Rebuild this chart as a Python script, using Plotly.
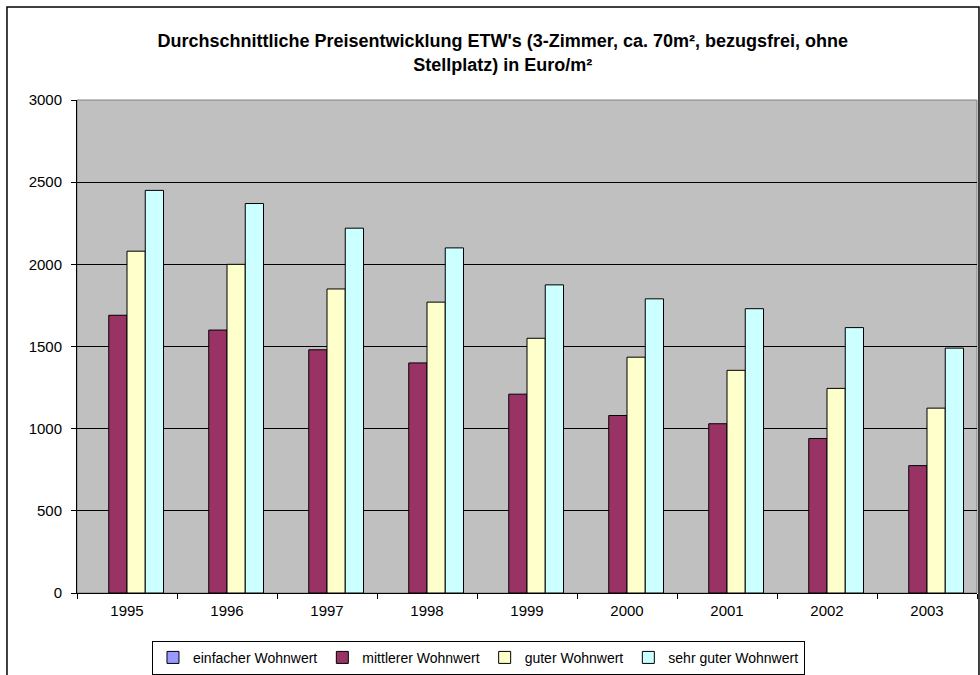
import plotly.graph_objects as go

years = ["1995", "1996", "1997", "1998", "1999", "2000", "2001", "2002", "2003"]
einfach = [None] * 9
mittlerer = [1690, 1600, 1480, 1400, 1210, 1080, 1030, 940, 775]
guter = [2080, 2000, 1850, 1770, 1550, 1435, 1355, 1245, 1125]
sehr_guter = [2450, 2370, 2220, 2100, 1875, 1790, 1730, 1615, 1490]

series = [
    ("einfacher Wohnwert", einfach, "#9999FF"),
    ("mittlerer Wohnwert", mittlerer, "#993366"),
    ("guter Wohnwert", guter, "#FFFFCC"),
    ("sehr guter Wohnwert", sehr_guter, "#CCFFFF"),
]

FONT = "Arial, Liberation Sans, sans-serif"

fig = go.Figure()
for name, vals, color in series:
    fig.add_trace(
        go.Bar(
            x=years,
            y=vals,
            name=name,
            marker=dict(color=color, line=dict(color="black", width=1)),
        )
    )

fig.update_layout(
    width=980,
    height=675,
    barmode="group",
    bargap=0.27,
    bargroupgap=0,
    paper_bgcolor="white",
    plot_bgcolor="#C0C0C0",
    font=dict(family=FONT, size=14, color="black"),
    margin=dict(l=77, r=3, t=100, b=82, autoexpand=False),
    title=dict(
        text="<b>Durchschnittliche Preisentwicklung ETW's (3-Zimmer, ca. 70m², bezugsfrei, ohne<br>Stellplatz) in Euro/m²</b>",
        x=0.513,
        xanchor="center",
        y=0.93,
        yanchor="middle",
        font=dict(family=FONT, size=18, color="black"),
    ),
    showlegend=True,
    legend=dict(
        orientation="h",
        x=0.0833,
        xanchor="left",
        y=-0.097,
        yanchor="top",
        bordercolor="black",
        borderwidth=1,
        font=dict(family=FONT, size=14),
        itemwidth=30,
        traceorder="normal",
    ),
)

fig.update_xaxes(
    showline=True,
    linecolor="black",
    linewidth=1,
    ticks="outside",
    tickson="boundaries",
    ticklen=5,
    tickcolor="black",
    ticklabelstandoff=4,
    tickfont=dict(size=15),
    showgrid=False,
)
fig.update_yaxes(
    range=[0, 3000],
    dtick=500,
    showline=True,
    linecolor="black",
    linewidth=1,
    ticks="outside",
    ticklen=5,
    tickcolor="black",
    ticklabelstandoff=6,
    tickfont=dict(size=15),
    showgrid=True,
    gridcolor="black",
    gridwidth=1,
    zeroline=False,
)

# plot area border and outer chart frame
fig.add_shape(type="rect", xref="paper", yref="paper", x0=0, y0=0, x1=1, y1=1,
              line=dict(color="#808080", width=1), layer="below")
fig.add_shape(type="rect", xref="paper", yref="paper", x0=-0.0778, y0=-0.2, x1=1.0022, y1=1.1886,
              line=dict(color="black", width=1.5))

fig.write_html(
    "out.html",
    config={"displayModeBar": False},
    post_script="document.body.style.margin='0';document.body.style.overflow='hidden';",
)
